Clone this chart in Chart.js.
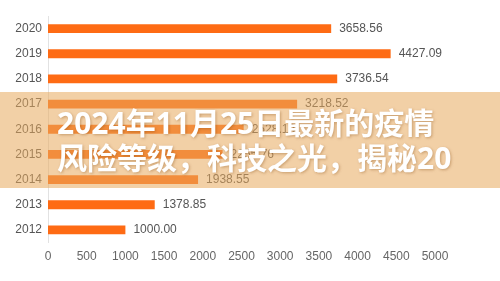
<!DOCTYPE html>
<html>
<head>
<meta charset="utf-8">
<script src="https://cdn.jsdelivr.net/npm/chart.js@4.4.0/dist/chart.umd.min.js"></script>
<style>
  html, body { margin: 0; padding: 0; background: #fff; }
  #wrap { position: relative; width: 500px; height: 281px; overflow: hidden; }
  canvas { display: block; }
  #band { position: absolute; left: 0; top: 92px; width: 500px; height: 96px; background: rgba(232,170,92,0.55); }
  #title { position: absolute; left: 57px; top: 105px; width: 470px; color: #fff;
    font-family: "Noto Sans", "Noto Sans CJK SC", sans-serif; font-weight: 700; font-size: 30px; line-height: 35px;
    text-shadow: 1px 1px 3px rgba(120,60,0,0.35); white-space: nowrap; }
</style>
</head>
<body>
<div id="wrap">
  <canvas id="c" width="500" height="281"></canvas>
  <div id="band"></div>
  <div id="title">2024年11月25日最新的疫情<br>风险等级，科技之光，揭秘20</div>
</div>
<script>
const years = ["2020", "2019", "2018", "2017", "2016", "2015", "2014", "2013", "2012"];
const values = [3658.56, 4427.09, 3736.54, 3218.52, 2528.18, 2255.76, 1938.55, 1378.85, 1000.00];
const xTicks = [0, 500, 1000, 1500, 2000, 2500, 3000, 3500, 4000, 4500, 5000];

const valueLabels = {
  id: 'valueLabels',
  afterDatasetsDraw(chart) {
    const ctx = chart.ctx;
    const meta = chart.getDatasetMeta(0);
    ctx.save();
    ctx.font = '12px "Liberation Sans", Arial, sans-serif';
    ctx.fillStyle = '#555';
    ctx.textAlign = 'left';
    ctx.textBaseline = 'middle';
    meta.data.forEach((bar, i) => {
      ctx.fillText(values[i].toFixed(2), bar.x + 8, bar.y);
    });
    ctx.restore();
  }
};

new Chart(document.getElementById('c'), {
  type: 'bar',
  data: {
    labels: years,
    datasets: [{
      data: values,
      backgroundColor: '#fe6b14',
      barPercentage: 0.35,
      categoryPercentage: 1.0
    }]
  },
  options: {
    indexAxis: 'y',
    responsive: false,
    animation: false,
    layout: { padding: { left: 0, right: 65, top: 16, bottom: 0 } },
    plugins: { legend: { display: false }, tooltip: { enabled: false } },
    scales: {
      x: {
        min: 0, max: 5000,
        afterBuildTicks(scale) { scale.ticks = xTicks.map(v => ({ value: v })); },
        afterFit(scale) { scale.height = 38.5; },
        grid: { display: false, drawTicks: false },
        border: { display: false },
        ticks: { color: '#666', padding: 7, maxRotation: 0, autoSkip: false,
          callback: (v) => String(v),
          font: { size: 12, family: '"Liberation Sans", Arial, sans-serif' } }
      },
      y: {
        afterFit(scale) { scale.width = 48; },
        grid: { display: false, drawTicks: false },
        border: { display: true, color: '#e2e2e2', width: 1 },
        ticks: { color: '#555', padding: 6,
          font: { size: 12, family: '"Liberation Sans", Arial, sans-serif' } }
      }
    }
  },
  plugins: [valueLabels]
});
</script>
</body>
</html>
